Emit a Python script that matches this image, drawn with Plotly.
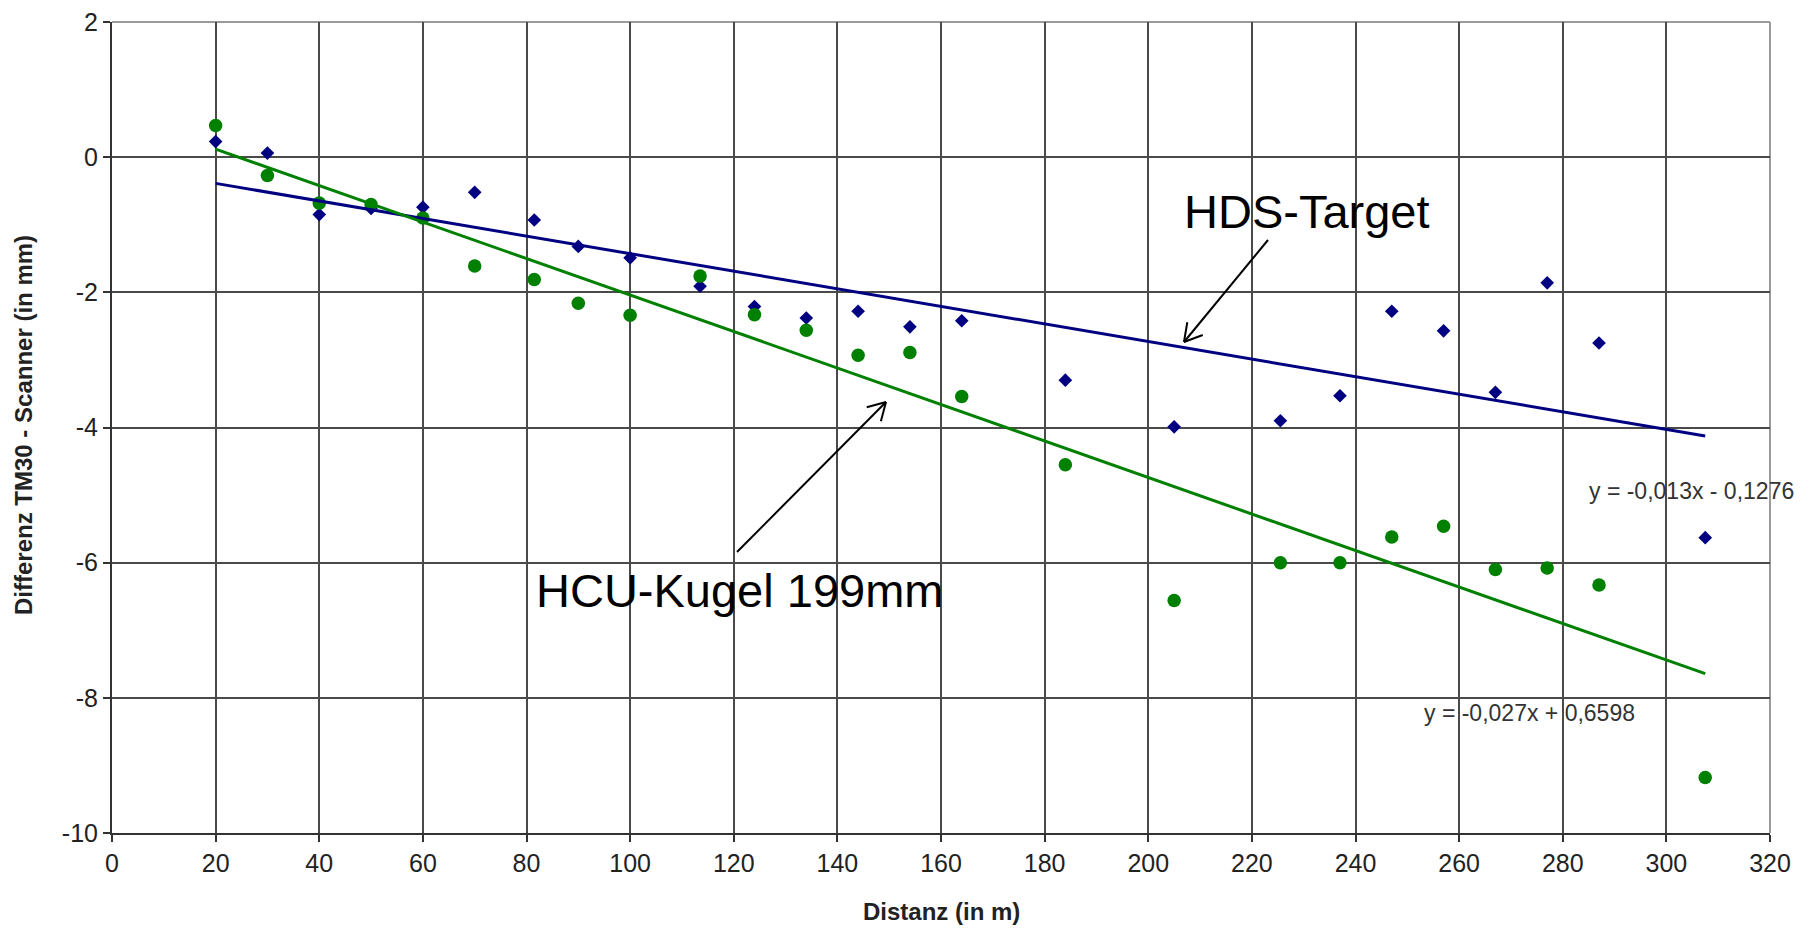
import math
import plotly.graph_objects as go

# ---------------- data ----------------
distance = [20, 30, 40, 50, 60, 70, 81.5, 90, 100, 113.5, 124, 134, 144, 154, 164,
            184, 205, 225.5, 237, 247, 257, 267, 277, 287, 307.5]
hds_target = [0.23, 0.06, -0.85, -0.76, -0.74, -0.52, -0.93, -1.32, -1.49, -1.91,
              -2.21, -2.38, -2.28, -2.51, -2.42, -3.30, -3.99, -3.90, -3.53, -2.28,
              -2.57, -3.48, -1.86, -2.75, -5.63]
hcu_kugel = [0.47, -0.27, -0.68, -0.70, -0.90, -1.61, -1.81, -2.16, -2.34, -1.76,
             -2.33, -2.56, -2.93, -2.89, -3.54, -4.55, -6.56, -6.00, -6.00, -5.62,
             -5.46, -6.10, -6.08, -6.33, -9.18]
# trendline equations shown on the chart (slope, intercept)
trend_hds = (-0.013, -0.1276)
trend_hcu = (-0.027, 0.6598)
eq_hds_text = "y = -0,013x - 0,1276"
eq_hcu_text = "y = -0,027x + 0,6598"

x_ticks = [0, 20, 40, 60, 80, 100, 120, 140, 160, 180, 200, 220, 240, 260, 280, 300, 320]
x_ticktext = [str(v) for v in x_ticks]
y_ticks = [2, 0, -2, -4, -6, -8, -10]
y_ticktext = ["2", "0", "-2", "-4", "-6", "-8", "-10"]

x_title = "Distanz (in m)"
y_title = "Differenz TM30 - Scanner (in mm)"
label_hds = "HDS-Target"
label_hcu = "HCU-Kugel 199mm"

# ---------------- styling ----------------
BLUE = "#000080"
GREEN = "#008000"
FONT = "Arial, Liberation Sans, sans-serif"
OFF = 8                      # default page margin of the html body
W, H = 1820 - OFF, 928 - OFF
ML, MR, MT, MB = 104, 50, 14, 95
PW, PH = W - ML - MR, H - MT - MB
XR = (0, 320)
YR = (-10, 2)
sx = PW / (XR[1] - XR[0])
sy = PH / (YR[1] - YR[0])


def px2data(px, py):
    return ((px - OFF - ML) / sx + XR[0], YR[1] - (py - OFF - MT) / sy)


def px2paper(px, py):
    return ((px - OFF - ML) / PW, 1 - (py - OFF - MT) / PH)


fig = go.Figure()

fig.add_trace(go.Scatter(x=distance, y=hds_target, mode="markers",
                         marker=dict(symbol="diamond", size=10.5, color=BLUE),
                         name="HDS-Target"))
fig.add_trace(go.Scatter(x=distance, y=hcu_kugel, mode="markers",
                         marker=dict(symbol="circle", size=13.5, color=GREEN),
                         name="HCU-Kugel 199mm"))

x_lo, x_hi = min(distance), max(distance)
fig.add_trace(go.Scatter(x=[x_lo, x_hi],
                         y=[trend_hds[0] * x_lo + trend_hds[1], trend_hds[0] * x_hi + trend_hds[1]],
                         mode="lines", line=dict(color=BLUE, width=3), name="Trend HDS"))
fig.add_trace(go.Scatter(x=[x_lo, x_hi],
                         y=[trend_hcu[0] * x_lo + trend_hcu[1], trend_hcu[0] * x_hi + trend_hcu[1]],
                         mode="lines", line=dict(color=GREEN, width=3), name="Trend HCU"))

axis_common = dict(
    showline=True, linecolor="#333333", linewidth=2,
    showgrid=True, gridcolor="#4a4a4a", gridwidth=1.6,
    zeroline=False, ticks="outside", ticklen=7, tickwidth=1.5, tickcolor="#333333",
    tickfont=dict(family=FONT, size=25, color="#222222"),
    ticklabeloverflow="allow", automargin=False,
)

fig.update_layout(
    width=W, height=H,
    margin=dict(l=ML, r=MR, t=MT, b=MB, pad=0, autoexpand=False),
    paper_bgcolor="white", plot_bgcolor="white",
    showlegend=False,
    xaxis=dict(range=list(XR), tickmode="array", tickvals=x_ticks, ticktext=x_ticktext,
               **axis_common),
    yaxis=dict(range=list(YR), tickmode="array", tickvals=y_ticks, ticktext=y_ticktext,
               **axis_common),
)

shapes = []
# light grey plot-area border on top and right
shapes.append(dict(type="line", xref="paper", yref="paper", x0=0, x1=1, y0=1, y1=1,
                   line=dict(color="#9a9a9a", width=2), layer="between"))
shapes.append(dict(type="line", xref="paper", yref="paper", x0=1, x1=1, y0=0, y1=1,
                   line=dict(color="#9a9a9a", width=2), layer="between"))
# dark frame strip at the right edge of the picture
bx0, _ = px2paper(1812, 0)
fig_top = 1 + MT / PH
fig_bot = -MB / PH
shapes.append(dict(type="rect", xref="paper", yref="paper",
                   x0=bx0, x1=bx0 + 20 / PW, y0=fig_bot - 0.01, y1=fig_top + 0.01,
                   fillcolor="#1e1e1e", line=dict(width=0), layer="above"))


def add_arrow(tail_px, tip_px, head_len=20, head_ang=30):
    tail = px2data(*tail_px)
    tip = px2data(*tip_px)
    shapes.append(dict(type="line", xref="x", yref="y", x0=tail[0], y0=tail[1],
                       x1=tip[0], y1=tip[1], line=dict(color="black", width=2),
                       layer="above"))
    dx = (tip[0] - tail[0]) * sx
    dy = (tip[1] - tail[1]) * sy
    L = math.hypot(dx, dy)
    ux, uy = -dx / L, -dy / L
    for a in (head_ang, -head_ang):
        r = math.radians(a)
        hx = (ux * math.cos(r) - uy * math.sin(r)) * head_len
        hy = (ux * math.sin(r) + uy * math.cos(r)) * head_len
        shapes.append(dict(type="line", xref="x", yref="y",
                           xsizemode="pixel", ysizemode="pixel",
                           xanchor=tip[0], yanchor=tip[1],
                           x0=0, y0=0, x1=hx, y1=hy,
                           line=dict(color="black", width=2), layer="above"))


add_arrow(tail_px=(1268, 240), tip_px=(1184, 342))
add_arrow(tail_px=(737, 552), tip_px=(886, 402))

fig.update_layout(shapes=shapes)

ann = []


def data_text(text, px, py, size, color, **kw):
    x, y = px2data(px, py)
    ann.append(dict(text=text, x=x, y=y, xref="x", yref="y", showarrow=False,
                    xanchor="center", yanchor="middle",
                    font=dict(family=FONT, size=size, color=color), **kw))


def paper_text(text, px, py, size, color, **kw):
    x, y = px2paper(px, py)
    ann.append(dict(text=text, x=x, y=y, xref="paper", yref="paper", showarrow=False,
                    xanchor="center", yanchor="middle",
                    font=dict(family=FONT, size=size, color=color), **kw))


data_text(label_hds, 1307, 211, 47, "black")
data_text(label_hcu, 739, 590, 47, "black")
paper_text(eq_hds_text, 1691, 491, 23, "#333333")
data_text(eq_hcu_text, 1529, 713, 23, "#333333")
paper_text("<b>" + x_title + "</b>", 941, 912, 24, "#222222")
paper_text("<b>" + y_title + "</b>", 24, 425, 24, "#222222", textangle=-90)
fig.update_layout(annotations=ann)

fig.write_html("out.html")
